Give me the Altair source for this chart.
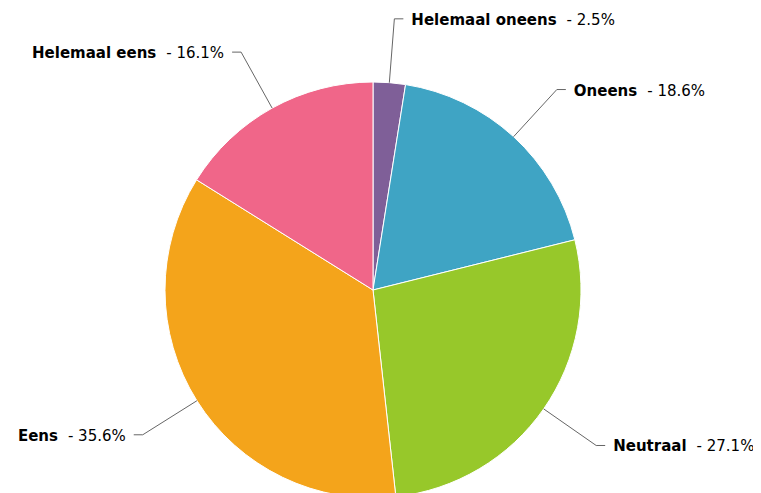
import altair as alt
import pandas as pd

# ---- data ----
categories = ["Helemaal oneens", "Oneens", "Neutraal", "Eens", "Helemaal eens"]
values = [2.5, 18.6, 27.1, 35.6, 16.1]
colors = ["#7f5f98", "#3fa4c4", "#97c82a", "#f4a41b", "#f06689"]

# ---- layout ----
CX, CY = 365, 282      # pie centre (chart coords)
R = 208                # pie radius
LR = 272               # radius of connector elbow
ELBOW = 9              # horizontal connector length
GAP = 8                # gap between connector and text
SEP = 10               # gap between bold name and value
FONT = "DejaVu Sans"
FS = 15

# approximate advance widths (em) for DejaVu Sans Bold / Book
bold_w = {"H": .838, "e": .678, "l": .343, "m": 1.042, "a": .675, " ": .348,
          "o": .687, "n": .712, "s": .595, "O": .850, "N": .838, "u": .712,
          "t": .478, "r": .493, "E": .683}
reg_w = {"-": .361, " ": .318, ".": .318, "%": .950}
for d in "0123456789":
    reg_w[d] = .636


def text_width(s, table):
    return sum(table.get(c, 0.62) for c in s) * FS


value_labels = ["- {:.1f}%".format(v) for v in values]

df = pd.DataFrame({
    "cat": categories,
    "val": values,
    "order": list(range(len(categories))),
    "vlabel": value_labels,
    "nw": [text_width(c, bold_w) for c in categories],
    "vw": [text_width(v, reg_w) for v in value_labels],
})

base = (
    alt.Chart(df)
    .transform_window(cum="sum(val)", sort=[alt.SortField("order")], frame=[None, 0])
    .transform_joinaggregate(total="sum(val)")
    .transform_calculate(mid="2*PI*(datum.cum - datum.val/2)/datum.total")
    .transform_calculate(
        side="sin(datum.mid) >= 0 ? 1 : -1",
        x0=f"{CX} + {R}*sin(datum.mid)",
        y0=f"{CY} - {R}*cos(datum.mid)",
        x1=f"{CX} + {LR}*sin(datum.mid)",
        y1=f"{CY} - {LR}*cos(datum.mid)",
    )
    .transform_calculate(x2=f"datum.x1 + datum.side*{ELBOW}")
    .transform_calculate(tx=f"datum.x2 + datum.side*{GAP}")
    .transform_calculate(
        name_end=f"datum.side > 0 ? datum.tx + datum.nw : datum.tx - datum.vw - {SEP}"
    )
    .transform_calculate(val_start=f"datum.name_end + {SEP}")
)

pie = alt.Chart(df).mark_arc(outerRadius=R, stroke="white", strokeWidth=1).encode(
    theta=alt.Theta("val:Q", stack=True),
    order=alt.Order("order:Q", sort="ascending"),
    color=alt.Color("cat:N", scale=alt.Scale(domain=categories, range=colors), legend=None),
    x=alt.value(CX),
    y=alt.value(CY),
)

conn1 = base.mark_rule(color="#666666", strokeWidth=1).encode(
    x=alt.X("x0:Q", scale=None, axis=None),
    y=alt.Y("y0:Q", scale=None, axis=None),
    x2="x1:Q",
    y2="y1:Q",
)
conn2 = base.mark_rule(color="#666666", strokeWidth=1).encode(
    x=alt.X("x1:Q", scale=None, axis=None),
    y=alt.Y("y1:Q", scale=None, axis=None),
    x2="x2:Q",
    y2="y1:Q",
)

names = base.mark_text(align="right", baseline="middle", font=FONT, fontSize=FS,
                       fontWeight="bold", color="#000000", dy=1).encode(
    x=alt.X("name_end:Q", scale=None, axis=None),
    y=alt.Y("y1:Q", scale=None, axis=None),
    text="cat:N",
)
vals = base.mark_text(align="left", baseline="middle", font=FONT, fontSize=FS,
                      fontWeight="normal", color="#000000", dy=1).encode(
    x=alt.X("val_start:Q", scale=None, axis=None),
    y=alt.Y("y1:Q", scale=None, axis=None),
    text="vlabel:N",
)

chart = (
    alt.layer(pie, conn1, conn2, names, vals)
    .properties(width=745, height=485, padding=0, autosize="none")
    .configure_view(stroke=None)
)

chart.save("out.html", embed_options={"renderer": "svg", "actions": False})
